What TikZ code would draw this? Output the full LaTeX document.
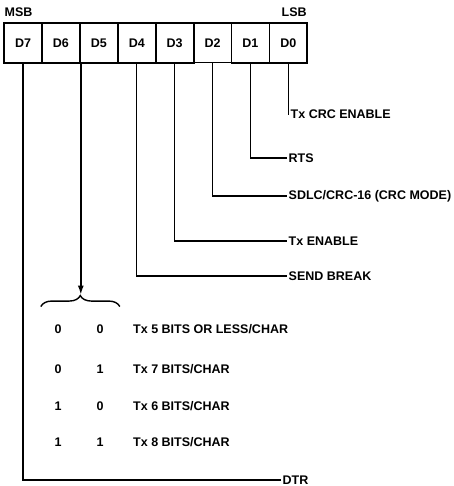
\documentclass[tikz,border=0pt]{standalone}
\usepackage{fontspec}
\setmainfont{Liberation Sans}
\usetikzlibrary{arrows.meta, decorations.pathreplacing, positioning, matrix, calc}

\begin{document}
\begin{tikzpicture}[
    x=1pt, y=1pt,
    cell/.style={draw, line width=1.8pt, minimum width=37.9pt, minimum height=39.5pt, inner sep=0pt, font=\bfseries\fontsize{12.5}{15}\selectfont},
    lbl/.style={font=\bfseries\fontsize{12.5}{15}\selectfont, inner sep=1.5pt},
    wire/.style={line width=1.4pt},
    arrow/.style={wire, -{Latex[length=9pt, width=6pt]}}
]
    \useasboundingbox (0,0) rectangle (453,-486);
    \matrix (reg) [matrix of nodes, nodes={cell}, column sep=-1.8pt, inner sep=0pt, anchor=north west] at (3,-22) {
        D7 & D6 & D5 & D4 & D3 & D2 & D1 & D0 \\
    };
    \node[lbl, anchor=south west] (msb) at ($(reg.north west)+(0,3.5)$) {MSB};
    \node[lbl, anchor=south east] (lsb) at ($(reg.north east)+(0,3.5)$) {LSB};
    % one label per bit
    \node[lbl, anchor=west] (crc)  at (289,-114) {Tx CRC ENABLE};
    \node[lbl, anchor=west] (rts)  at (287,-158) {RTS};
    \node[lbl, anchor=west] (mode) at (287,-196) {SDLC/CRC-16 (CRC MODE)};
    \node[lbl, anchor=west] (txen) at (287,-241) {Tx ENABLE};
    \node[lbl, anchor=west] (brk)  at (287,-276) {SEND BREAK};
    \node[lbl, anchor=west] (dtr)  at (281,-480) {DTR};
    \draw[wire] (reg-1-8.south) |- (crc.west);
    \draw[wire] (reg-1-7.south) |- (rts.west);
    \draw[wire] (reg-1-6.south) |- (mode.west);
    \draw[wire] (reg-1-5.south) |- (txen.west);
    \draw[wire] (reg-1-4.south) |- (brk.west);
    \draw[wire] (reg-1-1.south) |- (dtr.west);
    % D6/D5 pair
    \coordinate (sel) at ([yshift=-231pt]reg-1-2.south east);
    \draw[arrow] (reg-1-2.south east) -- (sel);
    \draw[wire, decorate, decoration={brace, amplitude=11pt}] ($(sel)+(-40,-12)$) -- ($(sel)+(39,-12)$);
    \foreach \a/\b/\txt/\yy [count=\r] in {0/0/{Tx 5 BITS OR LESS/CHAR}/-329, 0/1/{Tx 7 BITS/CHAR}/-369, 1/0/{Tx 6 BITS/CHAR}/-406, 1/1/{Tx 8 BITS/CHAR}/-442} {
        \node[lbl] (d6-\r) at (58,\yy) {\a};
        \node[lbl] (d5-\r) at (100,\yy) {\b};
        \node[lbl, anchor=west] (fmt-\r) at (131.5,\yy) {\txt};
    }
\end{tikzpicture}
\end{document}
